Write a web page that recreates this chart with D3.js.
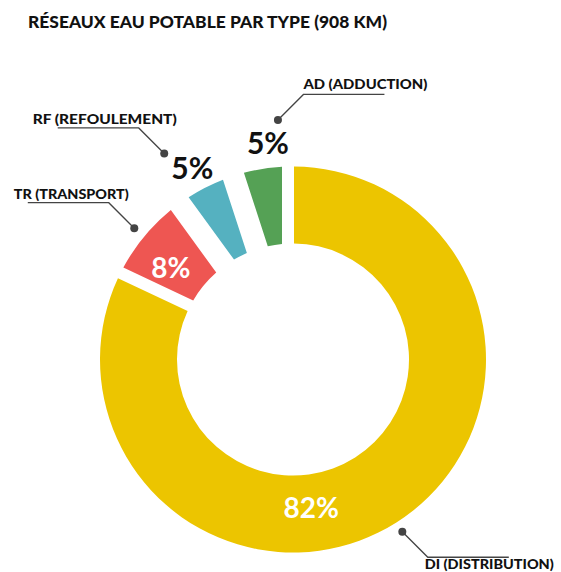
<!DOCTYPE html>
<html>
<head>
<meta charset="utf-8">
<script src="https://cdn.jsdelivr.net/npm/d3@7"></script>
<style>
  html, body { margin: 0; padding: 0; background: #fff; }
  svg { display: block; }
  text { font-family: Lato, "Open Sans", sans-serif; }
</style>
</head>
<body>
<svg id="chart" width="561" height="572"></svg>
<script>
// ---- data ----
const title = "RÉSEAUX EAU POTABLE PAR TYPE (908 KM)";
const categories = ["DI (DISTRIBUTION)", "TR (TRANSPORT)", "RF (REFOULEMENT)", "AD (ADDUCTION)"];
const shares = [82, 8, 5, 5];            // percent of network length
const percentLabels = ["82%", "8%", "5%", "5%"];
const colors = ["#ECC500", "#EE5652", "#55B1C0", "#55A155"];

// ---- layout ----
const W = 561, H = 572;
const cx = 293, cy = 359.5, R = 193, r0 = 116;
const deg = Math.PI / 180;
// per-slice layout: side padding (px), percent label polar pos, dot polar pos, callout
const layout = [
  { pad: 1,  pct: { a: 173, r: 150 }, pctFill: "#fff", pctSize: 28, pctWeight: 700,
    dot: { a: null, r: 204 }, dir: 1,  textDx: -3, textDy: 12, anchor: "start", textLen: 129 },
  { pad: 11, pct: { a: -53, r: 153 }, pctFill: "#fff", pctSize: 28, pctWeight: 700,
    dot: { a: null, r: 206 }, dir: -1, textDx: 3, textDy: -4, anchor: "middle", textLen: 115 },
  { pad: 11, pct: { a: -27.8, r: 216 }, pctFill: "#111", pctSize: 30, pctWeight: 700,
    dot: { a: -32, r: 243 }, dir: -1, textDx: 6.5, textDy: -4, anchor: "middle", textLen: 144 },
  { pad: 11, pct: { a: -6.6, r: 218 }, pctFill: "#111", pctSize: 30, pctWeight: 700,
    dot: { a: -3.6, r: 240 }, dir: 1,  textDx: 0, textDy: -5, anchor: "start", textLen: 124 }
];

const svg = d3.select("#chart");

svg.append("text")
  .attr("x", 28).attr("y", 28)
  .attr("font-size", 16).attr("font-weight", 900)
  .attr("fill", "#111")
  .attr("textLength", 359).attr("lengthAdjust", "spacingAndGlyphs")
  .text(title);

const pie = d3.pie().sort(null).value(d => d).startAngle(0).endAngle(2 * Math.PI);
const arcsData = pie(shares).map((d, i) => {
  const padRadius = 100;
  d.padAngle = 2 * Math.asin(layout[i].pad / padRadius);
  return d;
});
const arc = d3.arc().innerRadius(r0).outerRadius(R).padRadius(100);

const g = svg.append("g").attr("transform", `translate(${cx},${cy})`);

g.selectAll("path.slice")
  .data(arcsData)
  .join("path")
  .attr("class", "slice")
  .attr("d", arc)
  .attr("fill", (d, i) => colors[i]);

function polar(aDeg, rad) {
  const a = aDeg * deg;
  return [rad * Math.sin(a), -rad * Math.cos(a)];
}
function midDeg(d) {
  let m = (d.startAngle + d.endAngle) / 2 / deg;
  if (m > 180) m -= 360;
  return m;
}

// percent labels
g.selectAll("text.pct")
  .data(arcsData)
  .join("text")
  .attr("class", "pct")
  .each(function (d, i) {
    const L = layout[i];
    const a = L.pct.a === null ? midDeg(d) : L.pct.a;
    const [x, y] = polar(a, L.pct.r);
    d3.select(this)
      .attr("x", x).attr("y", y)
      .attr("dy", "0.36em")
      .attr("text-anchor", "middle")
      .attr("font-size", L.pctSize)
      .attr("font-weight", L.pctWeight)
      .attr("fill", L.pctFill)
      .text(percentLabels[i]);
  });

// callouts
const diag = 25.5, hlen = 81;
arcsData.forEach((d, i) => {
  const L = layout[i];
  const a = L.dot.a === null ? midDeg(d) : L.dot.a;
  const [dx, dy] = polar(a, L.dot.r);
  const up = (i === 0) ? 1 : -1; // DI goes down-right, others up
  const ex = dx + L.dir * diag, ey = dy + up * diag;
  const hx = ex + L.dir * hlen;
  g.append("path")
    .attr("d", `M${dx},${dy}L${ex},${ey}L${hx},${ey}`)
    .attr("fill", "none")
    .attr("stroke", "#444")
    .attr("stroke-width", 1.3);
  g.append("circle")
    .attr("cx", dx).attr("cy", dy).attr("r", 4)
    .attr("fill", "#444");
  const tx = L.anchor === "middle" ? (ex + hx) / 2 + L.textDx : ex + L.textDx;
  g.append("text")
    .attr("x", tx).attr("y", ey + L.textDy)
    .attr("text-anchor", L.anchor)
    .attr("font-size", 14).attr("font-weight", 900)
    .attr("fill", "#111")
    .attr("textLength", L.textLen).attr("lengthAdjust", "spacingAndGlyphs")
    .text(categories[i]);
});
</script>
</body>
</html>
